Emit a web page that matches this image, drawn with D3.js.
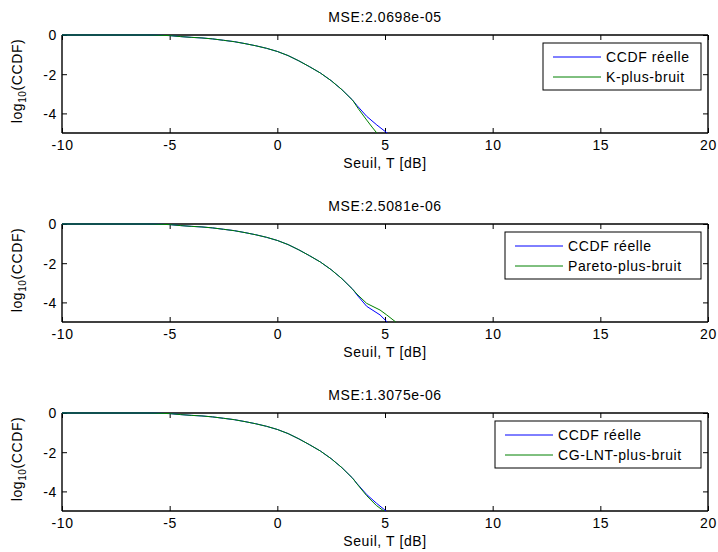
<!DOCTYPE html>
<html>
<head>
<meta charset="utf-8">
<script src="https://cdn.jsdelivr.net/npm/d3@7"></script>
<style>
  html, body { margin: 0; padding: 0; background: #fff; }
  svg text { font-family: "Liberation Sans", Arial, sans-serif; fill: #000; letter-spacing: 0.6px; }
</style>
</head>
<body>
<svg id="chart" width="718" height="552"></svg>
<script>
// ---- data ----
const xTicks = [-10, -5, 0, 5, 10, 15, 20];
const yTicks = [0, -2, -4];
const titles = ["MSE:2.0698e-05", "MSE:2.5081e-06", "MSE:1.3075e-06"];
const modelNames = ["K-plus-bruit", "Pareto-plus-bruit", "CG-LNT-plus-bruit"];
const realName = "CCDF réelle";

// shared body of the curves (threshold in dB, log10 CCDF)
const thresholdsCommon = [-10, -6, -5, -4.5, -4, -3.5, -3, -2.5, -2, -1.5, -1, -0.5, 0, 0.5, 1, 1.5, 2, 2.5, 3, 3.5];
const logCcdfCommon    = [0, 0, -0.03, -0.08, -0.12, -0.15, -0.2, -0.27, -0.34, -0.44, -0.55, -0.68, -0.84, -1.05, -1.32, -1.62, -1.94, -2.33, -2.79, -3.33];

// tails where the curves separate
const realTailX1  = [3.7, 4.15, 4.62, 5.1];
const realTailY1  = [-3.6, -4.15, -4.59, -5.0];
const modelTailX1 = [3.76, 4.15, 4.4, 4.62];
const modelTailY1 = [-3.76, -4.34, -4.7, -5.0];

const realTailX2  = [3.7, 4.15, 4.77, 5.1];
const realTailY2  = [-3.62, -4.2, -4.64, -5.0];
const modelTailX2 = [3.7, 4.15, 4.77, 5.08, 5.5];
const modelTailY2 = [-3.58, -4.05, -4.39, -4.64, -5.0];

const realTailX3  = [3.7, 4.15, 4.6, 5.05];
const realTailY3  = [-3.6, -4.16, -4.6, -5.0];
const modelTailX3 = [3.7, 4.15, 4.6, 4.95];
const modelTailY3 = [-3.62, -4.22, -4.72, -5.0];

const realTailsX = [realTailX1, realTailX2, realTailX3];
const realTailsY = [realTailY1, realTailY2, realTailY3];
const modelTailsX = [modelTailX1, modelTailX2, modelTailX3];
const modelTailsY = [modelTailY1, modelTailY2, modelTailY3];

// ---- drawing ----
const svg = d3.select("#chart");
const left = 62, right = 708, plotH = 98;
const panelTops = [35, 224, 413];
const legendLefts = [543, 505, 495];
const blue = "#0000ff", green = "#008000";
const FS = 14;
const fmt = d => String(d);

function toPoints(xs, ys) { return xs.map((x, i) => [x, ys[i]]); }

panelTops.forEach((top, p) => {
  const x = d3.scaleLinear().domain([-10, 20]).range([left, right]);
  const y = d3.scaleLinear().domain([-5, 0]).range([top + plotH, top]);
  const g = svg.append("g");

  const clipId = "clip" + p;
  g.append("clipPath").attr("id", clipId).append("rect")
    .attr("x", left - 1).attr("y", top - 1).attr("width", right - left + 2).attr("height", plotH + 2);

  // axes
  const bottomAxis = d3.axisBottom(x).tickValues(xTicks).tickSize(-5).tickPadding(7).tickFormat(fmt);
  const topAxis = d3.axisTop(x).tickValues(xTicks).tickSize(-5).tickFormat("");
  const leftAxis = d3.axisLeft(y).tickValues(yTicks).tickSize(-5).tickPadding(5).tickFormat(fmt);
  const rightAxis = d3.axisRight(y).tickValues(yTicks).tickSize(-5).tickFormat("");

  function styleAxis(sel) {
    sel.select(".domain").attr("stroke", "#000").attr("stroke-width", 1.4);
    sel.selectAll(".tick line").attr("stroke", "#000").attr("stroke-width", 1);
    sel.selectAll(".tick text").attr("font-size", FS).attr("font-family", "Liberation Sans, Arial, sans-serif");
  }
  const ba = g.append("g").attr("transform", `translate(0,${top + plotH})`).call(bottomAxis);
  ba.call(styleAxis);
  ba.selectAll(".domain").attr("d", `M${left},0H${right}`);
  const ta = g.append("g").attr("transform", `translate(0,${top})`).call(topAxis);
  ta.call(styleAxis);
  ta.selectAll(".domain").attr("d", `M${left},0H${right}`);
  const la = g.append("g").attr("transform", `translate(${left},0)`).call(leftAxis);
  la.call(styleAxis);
  la.selectAll(".domain").attr("d", `M0,${top}V${top + plotH}`);
  la.selectAll(".tick text").attr("dy", "0.35em");
  const ra = g.append("g").attr("transform", `translate(${right},0)`).call(rightAxis);
  ra.call(styleAxis);
  ra.selectAll(".domain").attr("d", `M0,${top}V${top + plotH}`);

  // curves
  const line = d3.line().x(d => x(d[0])).y(d => y(d[1]));
  const realPts = toPoints(thresholdsCommon, logCcdfCommon).concat(toPoints(realTailsX[p], realTailsY[p]));
  const modelPts = toPoints(thresholdsCommon, logCcdfCommon).concat(toPoints(modelTailsX[p], modelTailsY[p]));
  const curves = g.append("g").attr("clip-path", `url(#${clipId})`);
  curves.append("path").datum(realPts).attr("d", line)
    .attr("fill", "none").attr("stroke", blue).attr("stroke-width", 1);
  curves.append("path").datum(modelPts).attr("d", line)
    .attr("fill", "none").attr("stroke", green).attr("stroke-width", 1);

  // title
  g.append("text").attr("x", (left + right) / 2).attr("y", top - 13)
    .attr("text-anchor", "middle").attr("font-size", FS).text(titles[p]);

  // x label
  g.append("text").attr("x", (left + right) / 2).attr("y", top + plotH + 35)
    .attr("text-anchor", "middle").attr("font-size", FS).text("Seuil, T [dB]");

  // y label
  const yl = g.append("text")
    .attr("transform", `translate(22,${top + plotH / 2 - 3}) rotate(-90)`)
    .attr("text-anchor", "middle").attr("font-size", FS);
  yl.append("tspan").text("log");
  yl.append("tspan").attr("font-size", 10).attr("dy", 4).text("10");
  yl.append("tspan").attr("dy", -4).text("(CCDF)");

  // legend
  const lx = legendLefts[p], ly = top + 8, lw = right - 7 - lx, lh = 47;
  const leg = g.append("g");
  leg.append("rect").attr("x", lx).attr("y", ly).attr("width", lw).attr("height", lh)
    .attr("fill", "#fff").attr("stroke", "#000").attr("stroke-width", 1);
  const items = [[realName, blue], [modelNames[p], green]];
  items.forEach((it, i) => {
    const cy = ly + 14 + i * 20;
    leg.append("line").attr("x1", lx + 10).attr("x2", lx + 58).attr("y1", cy).attr("y2", cy)
      .attr("stroke", it[1]).attr("stroke-width", 1);
    leg.append("text").attr("x", lx + 63).attr("y", cy).attr("dy", "0.35em")
      .attr("font-size", FS).text(it[0]);
  });
});
</script>
</body>
</html>
